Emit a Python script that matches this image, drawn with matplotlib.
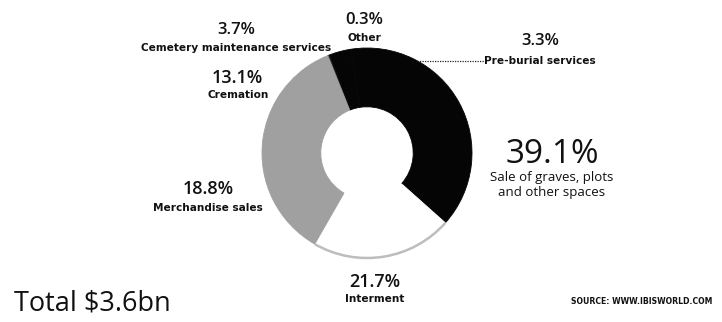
import numpy as np
import matplotlib.pyplot as plt
from matplotlib.patches import Arc

# revenue split, clockwise from the top of the ring
segments = ['Other', 'Pre-burial services', 'Sale of graves, plots\nand other spaces',
            'Interment', 'Merchandise sales', 'Cremation', 'Cemetery maintenance services']
shares = [0.3, 3.3, 39.1, 21.7, 18.8, 13.1, 3.7]
colors = ['#333333', '#050505', '#050505', '#ffffff', '#a0a0a0', '#a0a0a0', '#a0a0a0']

W, H = 722, 322
fig = plt.figure(figsize=(W / 100, H / 100), dpi=100)
ax = fig.add_axes([0, 0, 1, 1])

cx, cy, R = 367, H - 153, 105
start = 112
wedges, _ = ax.pie(shares, colors=colors, startangle=start, counterclock=False,
                   center=(cx, cy), radius=R, frame=True,
                   wedgeprops=dict(width=R * 0.56, linewidth=0.6))
for w, c in zip(wedges, colors):
    w.set_edgecolor(c)
ax.set_xlim(0, W)
ax.set_ylim(0, H)
ax.set_aspect('equal')
ax.axis('off')

# faint outline on the white Interment slice
cum = np.cumsum([0] + shares)
i = segments.index('Interment')
a1 = start - cum[i + 1] * 3.6
a2 = start - cum[i] * 3.6
ax.add_patch(Arc((cx, cy), 2 * R, 2 * R, theta1=a1, theta2=a2,
                 color='#bdbdbd', lw=1.8))

def txt(x, y, s, size, weight='normal', ha='center', family='Open Sans'):
    ax.text(x, H - y, s, fontsize=size, ha=ha, va='center', color='#111111',
            fontweight=weight, family=family, linespacing=1.15)

narrow = 'Liberation Sans Narrow'
txt(236, 30, '3.7%', 12, 'semibold')
txt(236, 48, segments[6], 7.6, 'bold', family=narrow)
txt(237, 78, '13.1%', 13, 'semibold')
txt(238, 95, segments[5], 7.6, 'bold', family=narrow)
txt(208, 189, '18.8%', 13, 'semibold')
txt(208, 208, segments[4], 7.6, 'bold', family=narrow)
txt(364, 20, '0.3%', 12, 'semibold')
txt(364, 38, segments[0], 7.6, 'bold', family=narrow)
txt(540, 41, '3.3%', 12, 'semibold')
txt(540, 61, segments[1], 7.6, 'bold', family=narrow)
txt(552, 154, '39.1%', 24)
txt(552, 185, segments[2], 9.5)
txt(375, 282, '21.7%', 13, 'semibold')
txt(375, 299, segments[3], 7.6, 'bold', family=narrow)
txt(14, 304, 'Total $3.6bn', 19.5, ha='left')
txt(571, 302, 'SOURCE: WWW.IBISWORLD.COM', 5.6, 'bold', ha='left', family=narrow)

ax.plot([417, 486], [H - 61, H - 61], color='#222222', lw=0.9, ls=(0, (1, 1)))

fig.savefig('out.png', dpi=100)
